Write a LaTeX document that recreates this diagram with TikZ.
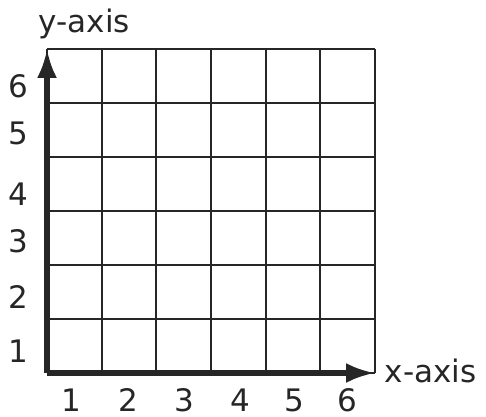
\documentclass[tikz,border=0pt]{standalone}
\usepackage{fontspec}
\setmainfont{DejaVu Sans}
\usetikzlibrary{arrows.meta}

\begin{document}
\begin{tikzpicture}[x=27.33pt,y=27pt,
    gridline/.style={line width=0.9pt,black!85},
    axis/.style={line width=2.6pt,black!85,-{Latex[length=14.5pt,width=10pt]}},
    num/.style={font=\fontsize{15.5}{18}\selectfont,inner sep=0pt,black!85},
    lbl/.style={font=\fontsize{15.5}{18}\selectfont,inner sep=0pt,black!85}]
  \useasboundingbox (-0.86,-0.796) rectangle (8.03,6.907);
  \coordinate (O) at (0,0);
  \coordinate (X) at (6,0);
  \coordinate (Y) at (0,6);

  % grid
  \draw[gridline,step=1] (O) grid (6,6);

  % axes
  \draw[axis] (O) -- (Y);
  \draw[axis] (O) -- (X);

  % numbers
  \foreach \x[count=\i] in {0.44,1.48,2.51,3.53,4.52,5.49} {
    \node[num] (xn\i) at (\x,-0.50) {\i};
  }
  \foreach \y[count=\i] in {0.41,1.41,2.44,3.31,4.44,5.31} {
    \node[num] (yn\i) at (-0.53,\y) {\i};
  }

  \node[lbl,anchor=base] (ylabel) at (0.68,6.30) {y-axis};
  \node[lbl,anchor=base west] (xlabel) at (6.17,-0.17) {x-axis};
\end{tikzpicture}
\end{document}
